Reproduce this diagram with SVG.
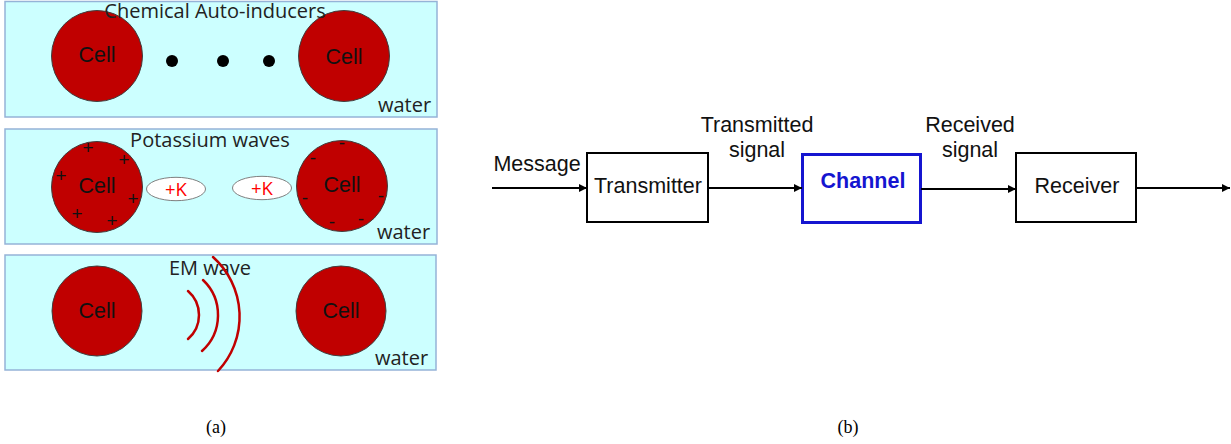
<svg xmlns="http://www.w3.org/2000/svg" width="1231" height="444" viewBox="0 0 1231 444">
  <defs>
    <marker id="arr" viewBox="0 0 10 10" refX="10" refY="5" markerWidth="9" markerHeight="8" markerUnits="userSpaceOnUse" orient="auto">
      <path d="M0,0 L10,5 L0,10 z" fill="#000"/>
    </marker>
    <style>
      .water { fill: #ccffff; stroke: #95b3d7; stroke-width: 1.5; }
      .cell { fill: #c00000; stroke: #3f3f3f; stroke-width: 1; }
      .celltxt { font-family: "Liberation Sans", Arial, sans-serif; font-size: 21.5px; fill: #111; text-anchor: middle; }
      .cap { font-family: "Open Sans", "Noto Sans", sans-serif; font-size: 20px; fill: #222; text-anchor: middle; }
      .wtr { font-family: "Open Sans", "Noto Sans", sans-serif; font-size: 20px; fill: #222; }
      .sign { font-family: "Liberation Sans", Arial, sans-serif; font-size: 19px; fill: #111; text-anchor: middle; }
      .ion { fill: #ffffff; stroke: #7f7f7f; stroke-width: 1; }
      .iontxt { font-family: "Open Sans", "Noto Sans", sans-serif; font-size: 18.5px; fill: #ff0000; text-anchor: middle; }
      .wave { fill: none; stroke: #c00000; stroke-width: 2.5; stroke-linecap: round; }
      .box { fill: #ffffff; stroke: #000; stroke-width: 2; }
      .lbl { font-family: "Liberation Sans", Arial, sans-serif; font-size: 21.5px; fill: #111; text-anchor: middle; }
      .conn { stroke: #000; stroke-width: 2; fill: none; marker-end: url(#arr); }
      .sub { font-family: "Liberation Serif", "Times New Roman", serif; font-size: 18px; fill: #000; text-anchor: middle; }
    </style>
  </defs>

  <!-- (a) panel 1: chemical auto-inducers -->
  <g id="panel-chemical">
    <rect class="water" x="5" y="1.5" width="432" height="115.5"/>
    <circle class="cell" cx="97" cy="56" r="45.5"/>
    <circle class="cell" cx="344" cy="56" r="45.5"/>
    <text class="celltxt" x="97" y="62">Cell</text>
    <text class="celltxt" x="344" y="64">Cell</text>
    <circle cx="172" cy="61" r="6" fill="#000"/>
    <circle cx="223" cy="61" r="6" fill="#000"/>
    <circle cx="269" cy="61" r="6" fill="#000"/>
    <text class="cap" x="215" y="18">Chemical Auto-inducers</text>
    <text class="wtr" x="378" y="112">water</text>
  </g>

  <!-- (a) panel 2: potassium waves -->
  <g id="panel-potassium">
    <rect class="water" x="5" y="129" width="432" height="115"/>
    <circle class="cell" cx="97" cy="187" r="45.5"/>
    <circle class="cell" cx="342" cy="186" r="45.5"/>
    <text class="celltxt" x="97" y="193">Cell</text>
    <text class="celltxt" x="342" y="192">Cell</text>
    <text class="sign" x="88" y="154">+</text>
    <text class="sign" x="124" y="166">+</text>
    <text class="sign" x="61" y="182">+</text>
    <text class="sign" x="133" y="205">+</text>
    <text class="sign" x="77" y="220">+</text>
    <text class="sign" x="112" y="227">+</text>
    <text class="sign" x="342" y="149">-</text>
    <text class="sign" x="313" y="164">-</text>
    <text class="sign" x="381" y="202">-</text>
    <text class="sign" x="305" y="204">-</text>
    <text class="sign" x="332" y="228">-</text>
    <text class="sign" x="361" y="225">-</text>
    <ellipse class="ion" cx="176" cy="189" rx="29.5" ry="11.7"/>
    <ellipse class="ion" cx="262" cy="188" rx="29.5" ry="11.7"/>
    <text class="iontxt" x="176" y="196">+K</text>
    <text class="iontxt" x="262" y="195">+K</text>
    <text class="cap" x="210" y="147">Potassium waves</text>
    <text class="wtr" x="377" y="239">water</text>
  </g>

  <!-- (a) panel 3: EM wave -->
  <g id="panel-em">
    <rect class="water" x="5" y="255" width="431" height="115"/>
    <circle class="cell" cx="97" cy="311" r="45"/>
    <circle class="cell" cx="341" cy="311" r="45"/>
    <text class="celltxt" x="97" y="318">Cell</text>
    <text class="celltxt" x="341" y="318">Cell</text>
    <text class="cap" x="210" y="275">EM wave</text>
    <path class="wave" d="M188,291 A31.7,31.7 0 0 1 188,339"/>
    <path class="wave" d="M203,280 A48.4,48.4 0 0 1 202,351"/>
    <path class="wave" d="M213,257 A79.7,79.7 0 0 1 218,371"/>
    <text class="wtr" x="375" y="365">water</text>
  </g>

  <!-- (b) communication chain -->
  <g id="transmitter">
    <rect class="box" x="587" y="153" width="121" height="69"/>
    <text class="lbl" x="648" y="193">Transmitter</text>
  </g>
  <g id="channel">
    <rect x="802.5" y="154.5" width="118" height="68" fill="#fff" stroke="#1515d0" stroke-width="3"/>
    <text x="863" y="188" font-family="Liberation Sans, Arial, sans-serif" font-size="21.5" font-weight="bold" fill="#1515d0" text-anchor="middle">Channel</text>
  </g>
  <g id="receiver">
    <rect class="box" x="1016" y="153" width="120" height="69"/>
    <text class="lbl" x="1077" y="193">Receiver</text>
  </g>

  <g id="connectors">
    <line class="conn" x1="492" y1="188" x2="587" y2="188"/>
    <line class="conn" x1="708" y1="188" x2="802" y2="188"/>
    <line class="conn" x1="921" y1="189" x2="1016" y2="189"/>
    <line class="conn" x1="1136" y1="188" x2="1230" y2="188"/>
  </g>

  <g id="signal-labels">
    <text class="lbl" x="537" y="171">Message</text>
    <text class="lbl" x="757" y="132">Transmitted</text>
    <text class="lbl" x="757" y="157">signal</text>
    <text class="lbl" x="970" y="132">Received</text>
    <text class="lbl" x="970" y="157">signal</text>
  </g>

  <text class="sub" x="216" y="433">(a)</text>
  <text class="sub" x="848" y="433">(b)</text>
</svg>
